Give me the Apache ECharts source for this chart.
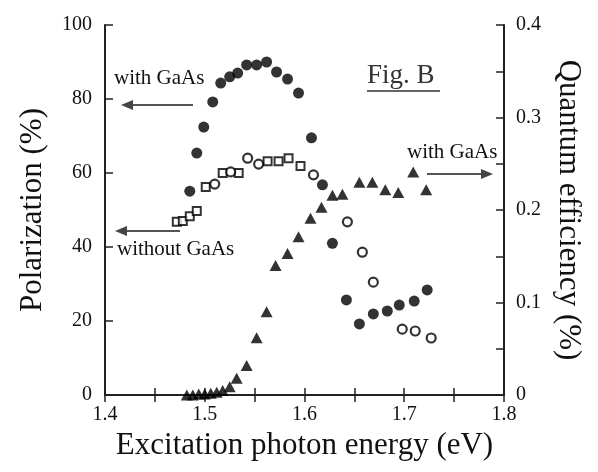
<!DOCTYPE html>
<html>
<head>
<meta charset="utf-8">
<script src="https://cdn.jsdelivr.net/npm/echarts@6/dist/echarts.min.js"></script>
<style>
  html, body { margin: 0; padding: 0; background: #fff; }
  #box { width: 598px; height: 472px; }
</style>
</head>
<body>
<div id="box"></div>
<script>
// 偏振度 with GaAs（实心圆）
let polWithE = [1.485, 1.492, 1.499, 1.508, 1.516, 1.525, 1.533, 1.542, 1.552, 1.562, 1.572, 1.583, 1.594, 1.607, 1.618, 1.628, 1.642, 1.655, 1.669, 1.683, 1.695, 1.710, 1.723];
let polWithV = [55.1, 65.4, 72.4, 79.2, 84.3, 86.0, 87.0, 89.2, 89.2, 90.0, 87.3, 85.4, 81.6, 69.5, 56.8, 41.0, 25.7, 19.2, 21.9, 22.7, 24.3, 25.4, 28.4];

// 偏振度 without GaAs（空心方块 / 空心圆）
let polSqE = [1.472, 1.478, 1.485, 1.492, 1.501, 1.518, 1.534, 1.563, 1.574, 1.584, 1.596];
let polSqV = [46.8, 47.0, 48.3, 49.7, 56.2, 60.0, 60.0, 63.2, 63.2, 64.0, 61.9];
let polCirE = [1.510, 1.526, 1.543, 1.554, 1.609, 1.643, 1.658, 1.669, 1.698, 1.711, 1.727];
let polCirV = [57.0, 60.3, 64.0, 62.4, 59.5, 46.8, 38.6, 30.5, 17.8, 17.3, 15.4];

// 量子效率 with GaAs（实心三角）
let qeE = [1.482, 1.488, 1.494, 1.500, 1.506, 1.512, 1.518, 1.525, 1.532, 1.542, 1.552, 1.562, 1.571, 1.583, 1.594, 1.606, 1.617, 1.628, 1.638, 1.655, 1.668, 1.681, 1.694, 1.709, 1.722];
let qeV = [0.000, 0.000, 0.001, 0.001, 0.002, 0.003, 0.005, 0.009, 0.018, 0.032, 0.062, 0.090, 0.140, 0.153, 0.171, 0.191, 0.203, 0.216, 0.217, 0.230, 0.230, 0.222, 0.219, 0.241, 0.222];

function pairs(xs, ys) {
    return xs.map(function (x, i) { return [x, ys[i]]; });
}

const serif = "'Liberation Serif', 'Times New Roman', serif";
const ink = '#111';
const axisColor = '#222';

let chart = echarts.init(document.getElementById('box'));

let option = {
    backgroundColor: '#fff',
    animation: false,
    grid: { left: 105, top: 25, width: 399, height: 370 },
    xAxis: [
        {
            type: 'value', min: 1.4, max: 1.8, interval: 0.1,
            name: 'Excitation photon energy (eV)',
            nameLocation: 'middle', nameGap: 35,
            nameTextStyle: { fontFamily: serif, fontSize: 31, color: ink },
            axisLine: { lineStyle: { color: axisColor, width: 2 } },
            axisTick: { inside: true, length: 7, lineStyle: { color: axisColor, width: 1.5 } },
            minorTick: { show: true, splitNumber: 2, length: 7, lineStyle: { color: axisColor, width: 1.5 } },
            axisLabel: { fontFamily: serif, fontSize: 20, color: ink, margin: 10,
                formatter: function (v) { return v.toFixed(1); } },
            splitLine: { show: false }
        },
        {
            type: 'value', min: 1.4, max: 1.8, interval: 0.1, position: 'top',
            axisLine: { lineStyle: { color: axisColor, width: 2 } },
            axisTick: { inside: true, length: 7, lineStyle: { color: axisColor, width: 1.5 } },
            minorTick: { show: true, splitNumber: 2, length: 7, lineStyle: { color: axisColor, width: 1.5 } },
            axisLabel: { show: false },
            splitLine: { show: false }
        }
    ],
    yAxis: [
        {
            type: 'value', min: 0, max: 100, interval: 20,
            name: 'Polarization (%)',
            nameLocation: 'middle', nameGap: 57,
            nameTextStyle: { fontFamily: serif, fontSize: 31, color: ink },
            axisLine: { show: true, lineStyle: { color: axisColor, width: 2 } },
            axisTick: { inside: true, length: 8, lineStyle: { color: axisColor, width: 1.5 } },
            axisLabel: { fontFamily: serif, fontSize: 20, color: ink, margin: 13 },
            splitLine: { show: false }
        },
        {
            type: 'value', min: 0, max: 0.4, interval: 0.1, position: 'right',
            name: 'Quantum efficiency (%)',
            nameLocation: 'middle', nameGap: 49, nameRotate: -90,
            nameTextStyle: { fontFamily: serif, fontSize: 31, color: ink },
            axisLine: { show: true, lineStyle: { color: axisColor, width: 2 } },
            axisTick: { inside: true, length: 8, lineStyle: { color: axisColor, width: 1.5 } },
            minorTick: { show: true, splitNumber: 2, length: 8, lineStyle: { color: axisColor, width: 1.5 } },
            axisLabel: { fontFamily: serif, fontSize: 20, color: ink, margin: 12,
                formatter: function (v) { return v === 0 ? '0' : v.toFixed(1); } },
            splitLine: { show: false }
        }
    ],
    series: [
        {
            name: 'with GaAs', type: 'scatter', xAxisIndex: 0, yAxisIndex: 0,
            symbol: 'circle', symbolSize: 11,
            itemStyle: { color: '#000' },
            data: pairs(polWithE, polWithV), z: 3
        },
        {
            name: 'without GaAs', type: 'scatter', xAxisIndex: 0, yAxisIndex: 0,
            symbol: 'rect', symbolSize: 8,
            itemStyle: { color: '#fff', borderColor: '#000', borderWidth: 2 },
            data: pairs(polSqE, polSqV), z: 2
        },
        {
            name: 'without GaAs', type: 'scatter', xAxisIndex: 0, yAxisIndex: 0,
            symbol: 'circle', symbolSize: 9,
            itemStyle: { color: '#fff', borderColor: '#000', borderWidth: 2.2 },
            data: pairs(polCirE, polCirV), z: 2
        },
        {
            name: 'QE', type: 'scatter', xAxisIndex: 0, yAxisIndex: 1,
            symbol: 'triangle', symbolSize: [12, 11],
            itemStyle: { color: '#000' },
            data: pairs(qeE, qeV), z: 3
        }
    ],
    graphic: [
        // 左上 with GaAs
        { type: 'text', left: 114, top: 68,
          style: { text: 'with GaAs', font: '21px ' + serif, fill: ink } },
        { type: 'line', shape: { x1: 193, y1: 105, x2: 128, y2: 105 },
          style: { stroke: '#555', lineWidth: 2 } },
        { type: 'polygon', shape: { points: [[121, 105], [133, 100], [133, 110]] },
          style: { fill: '#444' } },
        // without GaAs
        { type: 'line', shape: { x1: 180, y1: 231, x2: 122, y2: 231 },
          style: { stroke: '#555', lineWidth: 2 } },
        { type: 'polygon', shape: { points: [[115, 231], [127, 226], [127, 236]] },
          style: { fill: '#444' } },
        { type: 'text', left: 117, top: 239,
          style: { text: 'without GaAs', font: '21px ' + serif, fill: ink } },
        // 右侧 with GaAs
        { type: 'text', left: 407, top: 142,
          style: { text: 'with GaAs', font: '21px ' + serif, fill: ink } },
        { type: 'line', shape: { x1: 427, y1: 174, x2: 486, y2: 174 },
          style: { stroke: '#555', lineWidth: 2 } },
        { type: 'polygon', shape: { points: [[493, 174], [481, 169], [481, 179]] },
          style: { fill: '#444' } },
        // Fig. B 标题
        { type: 'text', left: 367, top: 62,
          style: { text: 'Fig. B', font: '27px ' + serif, fill: '#333' } },
        { type: 'line', shape: { x1: 367, y1: 91, x2: 440, y2: 91 },
          style: { stroke: '#333', lineWidth: 1.5 } }
    ]
};
chart.setOption(option);
</script>
</body>
</html>
